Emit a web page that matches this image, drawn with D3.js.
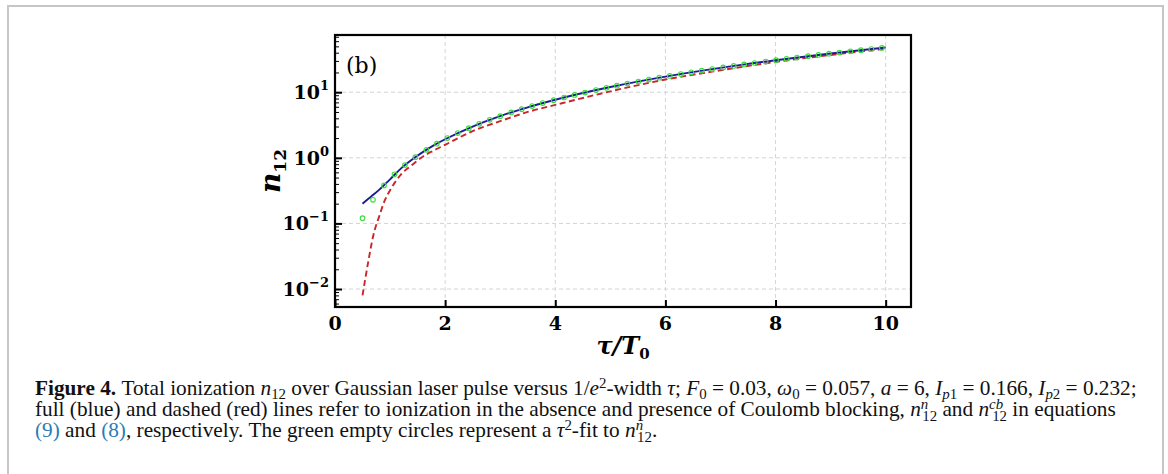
<!DOCTYPE html>
<html>
<head>
<meta charset="utf-8">
<script src="https://cdn.jsdelivr.net/npm/d3@7/dist/d3.min.js"></script>
<style>
  body { margin: 0; background: #fff; }
  svg { display: block; }
</style>
</head>
<body>
<div id="chart"></div>
<script>
const WIDTH = 1168;
const HEIGHT = 474;
const LEFT = 335, RIGHT = 911, TOP = 35, BOTTOM = 307;

// smooth curves (blue full, red dashed), sampled tau values
var tauLine = [0.5, 0.6, 0.7, 0.8, 0.9, 1.0, 1.2, 1.4, 1.6, 1.8, 2.0, 2.5, 3.0, 3.5, 4.0, 5.0, 6.0, 7.0, 8.0, 9.0, 10.0];
var nFull = [0.20, 0.235, 0.275, 0.325, 0.39, 0.47, 0.69, 0.94, 1.23, 1.56, 1.92, 3.0, 4.32, 5.88, 7.68, 12.0, 17.3, 23.5, 30.7, 38.9, 48.0];
var nBlock = [0.008, 0.025, 0.068, 0.126, 0.22, 0.32, 0.56, 0.78, 1.05, 1.30, 1.58, 2.55, 3.62, 5.0, 6.4, 10.3, 15.6, 21.6, 28.9, 37.0, 46.0];

// green empty circles (tau^2 fit)
var tauFit = [0.50, 0.69, 0.89, 1.08, 1.27, 1.46, 1.66, 1.85, 2.04, 2.23, 2.43, 2.62, 2.81, 3.00, 3.20, 3.39, 3.58, 3.77, 3.97, 4.16,
              4.35, 4.54, 4.74, 4.93, 5.12, 5.31, 5.51, 5.70, 5.89, 6.08, 6.28, 6.47, 6.66, 6.85, 7.05, 7.24, 7.43, 7.62, 7.82, 8.01,
              8.20, 8.39, 8.59, 8.78, 8.97, 9.16, 9.36, 9.55, 9.74, 9.93];
var nFit = [0.120, 0.229, 0.380, 0.560, 0.774, 1.023, 1.323, 1.643, 1.998, 2.387, 2.834, 3.295, 3.790, 4.32, 4.915, 5.516, 6.152, 6.822, 7.565, 8.307,
            9.083, 9.894, 10.78, 11.67, 12.58, 13.53, 14.57, 15.60, 16.65, 17.74, 18.93, 20.09, 21.29, 22.52, 23.86, 25.16, 26.50, 27.87, 29.35, 30.80,
            32.28, 33.79, 35.42, 37.00, 38.62, 40.27, 42.05, 43.78, 45.54, 47.33];

var xTicks = [0, 2, 4, 6, 8, 10];
var yTicks = [0.01, 0.1, 1, 10];
var yExp = ["\u22122", "\u22121", "0", "1"];

var svg = d3.select('#chart').append('svg')
  .attr('width', WIDTH)
  .attr('height', HEIGHT);

// grey frame of the figure box
svg.append('path')
  .attr('d', 'M8,' + HEIGHT + 'V6H1163V' + HEIGHT)
  .attr('fill', 'none')
  .attr('stroke', '#c6c6c6')
  .attr('stroke-width', 2);

var xScale = d3.scaleLinear().domain([0, 10.46]).range([LEFT, RIGHT]);
var yScale = d3.scaleLog().domain([0.00532, 74.5]).range([BOTTOM, TOP]);

// grid
var grid = svg.append('g').attr('stroke', '#d4d4d4').attr('stroke-width', 1).attr('stroke-dasharray', '4,3');
grid.selectAll('.gx').data(xTicks.slice(1)).enter().append('line')
  .attr('x1', d => xScale(d)).attr('x2', d => xScale(d))
  .attr('y1', TOP).attr('y2', BOTTOM);
grid.selectAll('.gy').data(yTicks).enter().append('line')
  .attr('x1', LEFT).attr('x2', RIGHT)
  .attr('y1', d => yScale(d)).attr('y2', d => yScale(d));

// axes with inward ticks
var xAxis = d3.axisBottom(xScale).tickValues(xTicks).tickSize(-7).tickFormat('');
svg.append('g').attr('transform', 'translate(0,' + BOTTOM + ')').call(xAxis)
  .call(g => g.select('.domain').remove())
  .call(g => g.selectAll('line').attr('stroke', '#000').attr('stroke-width', 2));

var minor = [];
[0.001, 0.01, 0.1, 1, 10].forEach(function (dec) {
  for (var k = 2; k <= 9; k++) {
    var v = dec * k;
    if (v > 0.00532 && v < 74.5) minor.push(v);
  }
});
var yMinor = d3.axisLeft(yScale).tickValues(minor).tickSize(-4).tickFormat('');
svg.append('g').attr('transform', 'translate(' + LEFT + ',0)').call(yMinor)
  .call(g => g.select('.domain').remove())
  .call(g => g.selectAll('line').attr('stroke', '#000').attr('stroke-width', 1));
var yAxis = d3.axisLeft(yScale).tickValues(yTicks).tickSize(-7).tickFormat('');
svg.append('g').attr('transform', 'translate(' + LEFT + ',0)').call(yAxis)
  .call(g => g.select('.domain').remove())
  .call(g => g.selectAll('line').attr('stroke', '#000').attr('stroke-width', 2));

// tick labels
var tickFont = "'DejaVu Serif', serif";
svg.append('g').selectAll('text').data(xTicks).enter().append('text')
  .attr('x', d => xScale(d)).attr('y', 330)
  .attr('text-anchor', 'middle')
  .attr('font-family', tickFont).attr('font-weight', 'bold').attr('font-size', 19)
  .text(d => d);

var yl = svg.append('g').selectAll('text').data(yTicks).enter().append('text')
  .attr('x', 329).attr('y', d => yScale(d) + 7)
  .attr('text-anchor', 'end')
  .attr('font-family', tickFont).attr('font-weight', 'bold').attr('font-size', 19);
yl.append('tspan').text('10');
yl.append('tspan').attr('font-size', 13).attr('dy', -9).text((d, i) => yExp[i]);

// data
var line = d3.line()
  .x((d, i) => xScale(tauLine[i]))
  .y(d => yScale(d))
  .curve(d3.curveMonotoneX);

svg.append('path').attr('d', line(nBlock))
  .attr('fill', 'none').attr('stroke', '#c8262c').attr('stroke-width', 1.9)
  .attr('stroke-dasharray', '6,3.5');

svg.append('path').attr('d', line(nFull))
  .attr('fill', 'none').attr('stroke', '#1c1c96').attr('stroke-width', 1.9);

svg.append('g').selectAll('circle').data(nFit).enter().append('circle')
  .attr('cx', (d, i) => xScale(tauFit[i]))
  .attr('cy', d => yScale(d))
  .attr('r', 2.3)
  .attr('fill', 'none').attr('stroke', '#3fdc3f').attr('stroke-width', 1.1);

// spines
svg.append('rect')
  .attr('x', LEFT).attr('y', TOP).attr('width', RIGHT - LEFT).attr('height', BOTTOM - TOP)
  .attr('fill', 'none').attr('stroke', '#000').attr('stroke-width', 2.2);

// panel tag
svg.append('text').attr('x', 346).attr('y', 73)
  .attr('font-family', "'DejaVu Serif', serif").attr('font-size', 22)
  .text('(b)');

// axis labels
var xl = svg.append('text').attr('x', 623).attr('y', 354).attr('text-anchor', 'middle')
  .attr('font-family', "'DejaVu Serif', serif").attr('font-weight', 'bold').attr('font-style', 'italic').attr('font-size', 24);
xl.append('tspan').text('\u03c4/T');
xl.append('tspan').attr('font-size', 15).attr('dy', 5).attr('font-style', 'normal').text('0');

var ylab = svg.append('text').attr('transform', 'translate(280,171) rotate(-90)').attr('text-anchor', 'middle')
  .attr('font-family', "'DejaVu Serif', serif").attr('font-weight', 'bold').attr('font-size', 28);
ylab.append('tspan').attr('font-style', 'italic').text('n');
ylab.append('tspan').attr('font-size', 17).attr('dy', 6).text('12');

// caption
var capFont = "'Liberation Serif', 'Times New Roman', serif";
var capLines = [
  [['b', 'Figure 4.'], ['', ' Total ionization '], ['i', 'n'], ['sub', '12'], ['', ' over Gaussian laser pulse versus 1/'], ['i', 'e'], ['sup', '2'],
   ['', '-width '], ['i', '\u03c4'], ['', '; '], ['i', 'F'], ['sub', '0'], ['', ' = 0.03, '], ['i', '\u03c9'], ['sub', '0'], ['', ' = 0.057, '],
   ['i', 'a'], ['', ' = 6, '], ['i', 'I'], ['subi', 'p'], ['sub', '1'], ['', ' = 0.166, '], ['i', 'I'], ['subi', 'p'], ['sub', '2'], ['', ' = 0.232;']],
  [['', 'full (blue) and dashed (red) lines refer to ionization in the absence and presence of Coulomb blocking, '], ['i', 'n'], ['supi', 'n'], ['subb', '12'],
   ['', ' and '], ['i', 'n'], ['supi', 'cb'], ['subb2', '12'], ['', ' in equations']],
  [['link', '(9)'], ['', ' and '], ['link', '(8)'], ['', ', respectively. The green empty circles represent a '], ['i', '\u03c4'], ['sup', '2'],
   ['', '-fit to '], ['i', 'n'], ['supi', 'n'], ['subb', '12'], ['', '.']]
];

var capNodes = capLines.map(function (parts, li) {
  var t = svg.append('text').attr('x', 35).attr('y', 395 + li * 21)
    .attr('font-family', capFont).attr('font-size', 17.5).attr('fill', '#111');
  var shift = 0;
  parts.forEach(function (p) {
    var kind = p[0], s = p[1];
    var ts = t.append('tspan').text(s.replace(/ /g, '\u00a0'));
    var dy = 0;
    if (kind === 'b') ts.attr('font-weight', 'bold');
    if (kind === 'i') ts.attr('font-style', 'italic');
    if (kind === 'link') ts.attr('fill', '#2b7bb5');
    if (kind === 'sub' || kind === 'subi') { ts.attr('font-size', '0.7em'); dy = 4; if (kind === 'subi') ts.attr('font-style', 'italic'); }
    if (kind === 'sup') { ts.attr('font-size', '0.7em'); dy = -7; }
    if (kind === 'supi') { ts.attr('font-size', '0.7em').attr('font-style', 'italic'); dy = -7; }
    if (kind === 'subb') { ts.attr('font-size', '0.7em').attr('dx', -6); dy = 5; }
    if (kind === 'subb2') { ts.attr('font-size', '0.7em').attr('dx', -11); dy = 5; }
    ts.attr('dy', dy - shift);
    shift = dy;
  });
  return t;
});
// scale caption so the first line spans the same width as in the figure
var w0 = capNodes[0].node().getComputedTextLength();
var capSize = 17.5 * 1102 / w0;
capNodes.forEach(t => t.attr('font-size', capSize));
</script>
</body>
</html>
